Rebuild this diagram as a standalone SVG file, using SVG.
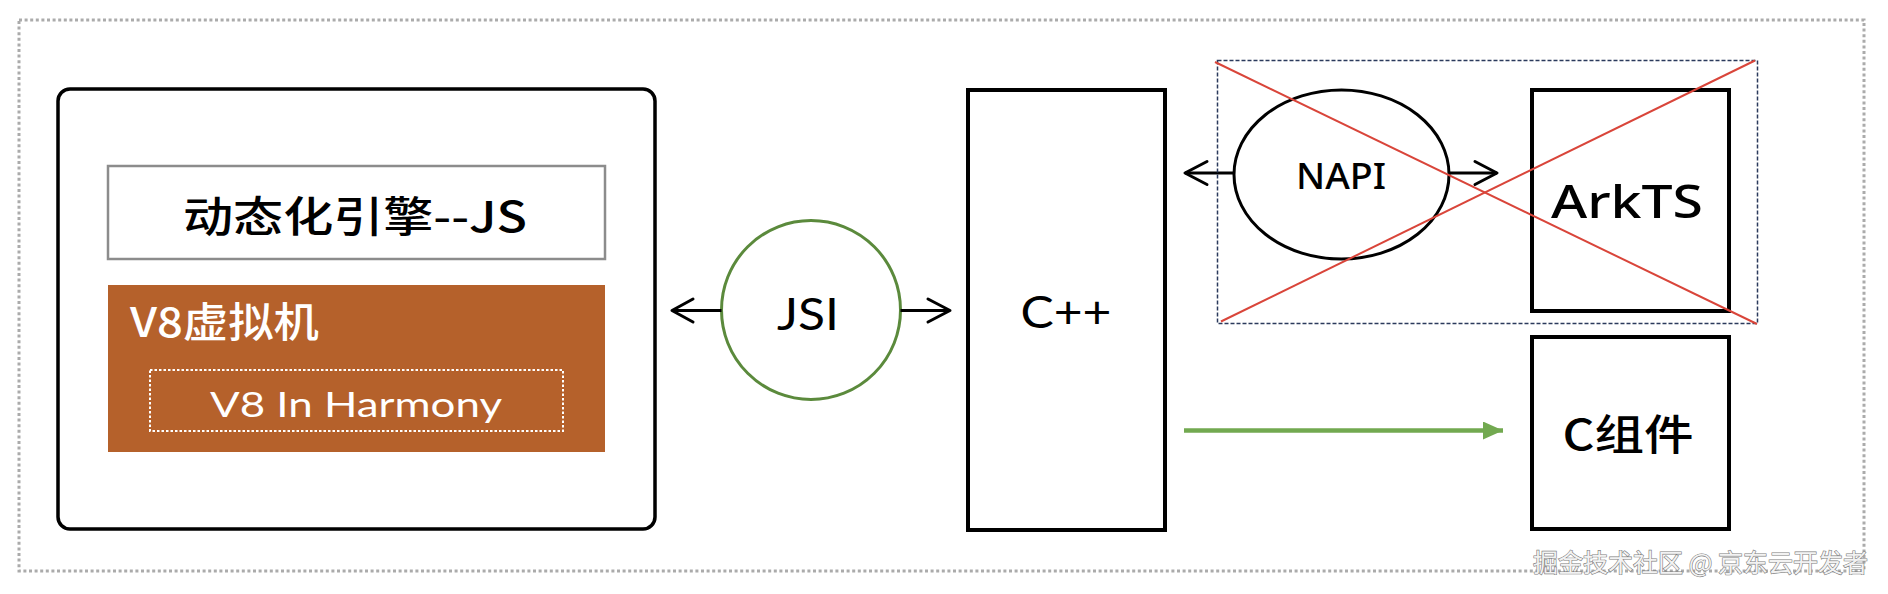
<svg xmlns="http://www.w3.org/2000/svg" width="1888" height="594" viewBox="0 0 1888 594">
<style>
.lat{font-family:"Lato","Noto Sans CJK SC",sans-serif;}
.noto{font-family:"Noto Sans","Noto Sans CJK SC",sans-serif;}
.cjk{font-family:"Noto Sans CJK SC","Noto Sans",sans-serif;}
.box{fill:#fff;stroke:#000;stroke-width:4;}
.conn{stroke:#000;stroke-width:3;fill:none;}
.head{stroke:#000;stroke-width:3;fill:none;stroke-linecap:round;stroke-linejoin:round;}
.red{stroke:#D9453A;stroke-width:2;}
</style>
<defs>
<marker id="tri" viewBox="0 0 20 18" refX="20" refY="9" markerWidth="20" markerHeight="18" markerUnits="userSpaceOnUse" orient="auto">
<path d="M0,0 L20,9 L0,18 Z" fill="#72A950"/>
</marker>
</defs>
<rect width="1888" height="594" fill="#fff"/>
<g id="frame">
<rect x="19" y="20" width="1845" height="551" fill="none" stroke="#ABABAB" stroke-width="3" stroke-dasharray="3 2.6"/>
</g>
<g id="engine">
<rect x="58" y="89" width="597" height="440" rx="12" ry="12" fill="#fff" stroke="#000" stroke-width="3.5"/>
</g>
<g id="js">
<rect x="108" y="166" width="497" height="93" fill="#fff" stroke="#8C8C8C" stroke-width="2.5"/>
<text class="cjk" x="355" y="232" font-size="42" font-weight="500" text-anchor="middle" textLength="344" lengthAdjust="spacingAndGlyphs" fill="#000">动态化引擎--JS</text>
</g>
<g id="v8">
<rect x="108" y="285" width="497" height="167" fill="#B5612B"/>
<text class="cjk" x="130" y="337" font-size="41" font-weight="500" textLength="189" lengthAdjust="spacingAndGlyphs" fill="#fff">V8虚拟机</text>
</g>
<g id="v8harmony">
<rect x="150" y="370" width="413" height="61" fill="none" stroke="#fff" stroke-width="2" stroke-dasharray="2.5 2"/>
<text class="lat" x="356" y="417" font-size="35" text-anchor="middle" textLength="292" lengthAdjust="spacingAndGlyphs" fill="#fff">V8 In Harmony</text>
</g>
<g id="jsi">
<circle cx="811" cy="310" r="89.5" fill="#fff" stroke="#5B8A3C" stroke-width="3"/>
<text class="lat" x="808" y="329.5" font-size="45" text-anchor="middle" textLength="62" lengthAdjust="spacingAndGlyphs" fill="#000">JSI</text>
</g>
<g id="cpp">
<rect class="box" x="968" y="90" width="197" height="440"/>
<text class="lat" x="1066" y="328" font-size="44" text-anchor="middle" textLength="91" lengthAdjust="spacingAndGlyphs" fill="#000">C++</text>
</g>
<g id="napi">
<ellipse cx="1341.5" cy="174.5" rx="107.5" ry="84.5" fill="#fff" stroke="#000" stroke-width="3"/>
<text class="noto" x="1341" y="189" font-size="36" font-weight="500" text-anchor="middle" textLength="90" lengthAdjust="spacingAndGlyphs" fill="#000">NAPI</text>
</g>
<g id="arkts">
<rect class="box" x="1532" y="90" width="197" height="221"/>
<text class="noto" x="1627" y="218" font-size="45" font-weight="500" text-anchor="middle" textLength="152" lengthAdjust="spacingAndGlyphs" fill="#000">ArkTS</text>
</g>
<g id="ccomp">
<rect class="box" x="1532" y="337" width="197" height="192"/>
<text class="cjk" x="1628" y="450" font-size="42" font-weight="500" text-anchor="middle" textLength="131" lengthAdjust="spacingAndGlyphs" fill="#000">C组件</text>
</g>
<g id="connectors">
<line class="conn" x1="721.5" y1="310.5" x2="672" y2="310.5"/>
<polyline class="head" points="693,299 672,310.5 693,322"/>
<line class="conn" x1="900.5" y1="310.5" x2="950" y2="310.5"/>
<polyline class="head" points="928,299 950,310.5 928,322"/>
<line class="conn" x1="1234" y1="173" x2="1185" y2="173"/>
<polyline class="head" points="1207,161.5 1185,173 1207,184.5"/>
<line class="conn" x1="1449" y1="173" x2="1497" y2="173"/>
<polyline class="head" points="1475,161.5 1497,173 1475,184.5"/>
<line x1="1184" y1="430.5" x2="1503" y2="430.5" stroke="#72A950" stroke-width="4.5" marker-end="url(#tri)"/>
</g>
<g id="disabled">
<rect x="1217.5" y="60.5" width="540" height="263" fill="none" stroke="#2B3A5C" stroke-width="1.5" stroke-dasharray="4 2"/>
<line class="red" x1="1215" y1="62" x2="1757" y2="324"/>
<line class="red" x1="1755" y1="60.5" x2="1221" y2="321.5"/>
</g>
<g id="watermark">
<text class="cjk" x="1868" y="572" font-size="25" text-anchor="end" textLength="335" lengthAdjust="spacingAndGlyphs" fill="#f2f2f2" stroke="#7d7d7d" stroke-width="1.2" paint-order="stroke">掘金技术社区 @ 京东云开发者</text>
</g>
</svg>
